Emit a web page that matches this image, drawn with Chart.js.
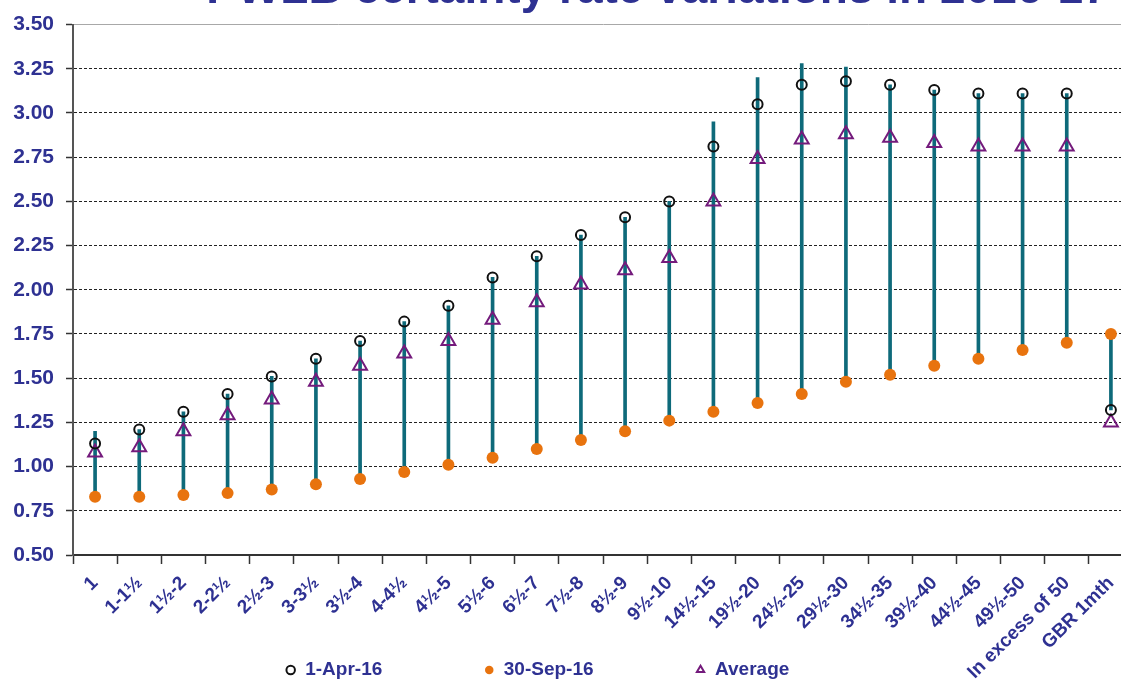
<!DOCTYPE html>
<html>
<head>
<meta charset="utf-8">
<title>PWLB certainty rate variations in 2016-17</title>
<script src="https://cdn.jsdelivr.net/npm/chart.js@4/dist/chart.umd.min.js"></script>
<style>
  html, body { margin: 0; padding: 0; background: #ffffff; overflow: hidden; }
  #wrap { position: absolute; left: 0; top: 0; width: 1143px; height: 683px; }
</style>
</head>
<body>
<div id="wrap"><canvas id="chart" width="1143" height="683"></canvas></div>
<script>
// Loan periods (years) plus the one-month bank rate comparator
const periods = ['1', '1-1½', '1½-2', '2-2½', '2½-3', '3-3½', '3½-4', '4-4½', '4½-5',
  '5½-6', '6½-7', '7½-8', '8½-9', '9½-10', '14½-15', '19½-20', '24½-25', '29½-30',
  '34½-35', '39½-40', '44½-45', '49½-50', 'In excess of 50', 'GBR 1mth'];

// Rates (%) on the two dates and the average across the half year
const rateApr16 = [1.13, 1.21, 1.31, 1.41, 1.51, 1.61, 1.71, 1.82, 1.91, 2.07, 2.19, 2.31,
  2.41, 2.50, 2.81, 3.05, 3.16, 3.18, 3.16, 3.13, 3.11, 3.11, 3.11, 1.32];
const rateSep16 = [0.83, 0.83, 0.84, 0.85, 0.87, 0.90, 0.93, 0.97, 1.01, 1.05, 1.10, 1.15,
  1.20, 1.26, 1.31, 1.36, 1.41, 1.48, 1.52, 1.57, 1.61, 1.66, 1.70, 1.75];
const rateAverage = [1.08, 1.11, 1.20, 1.29, 1.38, 1.48, 1.57, 1.64, 1.71, 1.83, 1.93, 2.03,
  2.11, 2.18, 2.50, 2.74, 2.85, 2.88, 2.86, 2.83, 2.81, 2.81, 2.81, 1.25];

// Lowest and highest rate seen over the period
const rateLow = [0.83, 0.83, 0.84, 0.85, 0.87, 0.90, 0.93, 0.97, 1.01, 1.05, 1.10, 1.15,
  1.20, 1.26, 1.31, 1.36, 1.41, 1.48, 1.52, 1.57, 1.61, 1.66, 1.70, 1.32];
const rateHigh = [1.20, 1.21, 1.31, 1.41, 1.51, 1.61, 1.71, 1.82, 1.91, 2.07, 2.19, 2.31,
  2.41, 2.50, 2.95, 3.20, 3.28, 3.26, 3.16, 3.13, 3.11, 3.11, 3.11, 1.75];

// Y axis tick values
const yTicks = [0.50, 0.75, 1.00, 1.25, 1.50, 1.75, 2.00, 2.25, 2.50, 2.75, 3.00, 3.25, 3.50];

const NAVY = '#2e3192';
const TEAL = '#0e6a7a';
const ORANGE = '#e8730e';
const PURPLE = '#741b7c';

Chart.defaults.font.family = '"Liberation Sans", Arial, sans-serif';
Chart.defaults.font.weight = 'bold';

// After layout: nudge the title and legend sideways, and let the slanted
// period labels run down past the legend row instead of being clipped
const layoutTweak = {
  id: 'layoutTweak',
  afterLayout(chart, args, opts) {
    const t = chart.titleBlock;
    if (t) { t.left += opts.title; t.right += opts.title; }
    const l = chart.legend;
    if (l) { l.left += opts.legend; l.right += opts.legend; }
    const x = chart.scales.x;
    if (x) { x.bottom = chart.height; }
  }
};

new Chart(document.getElementById('chart'), {
  type: 'bar',
  data: {
    labels: periods,
    datasets: [
      {
        type: 'bar',
        label: 'Range',
        data: rateLow.map((lo, i) => [lo, rateHigh[i]]),
        backgroundColor: TEAL,
        borderWidth: 0,
        barThickness: 3,
        order: 10
      },
      {
        type: 'line',
        label: '1-Apr-16',
        data: rateApr16,
        showLine: false,
        pointStyle: 'circle',
        pointRadius: 5,
        pointBorderWidth: 2,
        pointBorderColor: '#111111',
        pointBackgroundColor: 'rgba(0,0,0,0)',
        order: 1
      },
      {
        type: 'line',
        label: '30-Sep-16',
        data: rateSep16,
        showLine: false,
        pointStyle: 'circle',
        pointRadius: 6,
        pointBorderWidth: 0,
        pointBorderColor: ORANGE,
        pointBackgroundColor: ORANGE,
        order: 2
      },
      {
        type: 'line',
        label: 'Average',
        data: rateAverage,
        showLine: false,
        pointStyle: 'triangle',
        pointRadius: 8,
        pointBorderWidth: 2,
        pointBorderColor: PURPLE,
        pointBackgroundColor: 'rgba(0,0,0,0)',
        order: 3
      }
    ]
  },
  options: {
    responsive: false,
    animation: false,
    devicePixelRatio: 1,
    layout: { padding: 0 },
    plugins: {
      tooltip: { enabled: false },
      title: {
        display: true,
        text: 'PWLB certainty rate variations in 2016-17',
        color: NAVY,
        font: { size: 46, weight: 'bold' },
        padding: { top: -37.5, bottom: 6.3 }
      },
      legend: {
        position: 'bottom',
        maxHeight: 124.5,
        labels: {
          filter: (item) => item.datasetIndex !== 0,
          usePointStyle: true,
          boxWidth: 10,
          boxHeight: 6,
          padding: 102,
          color: NAVY,
          font: { size: 19, weight: 'bold' }
        }
      },
      layoutTweak: { title: 86, legend: -34 }
    },
    scales: {
      x: {
        type: 'category',
        offset: true,
        grid: {
          offset: true,
          drawOnChartArea: false,
          drawTicks: true,
          tickLength: 9,
          tickColor: '#333333',
          tickWidth: 1.5
        },
        border: { color: '#333333', width: 2 },
        ticks: {
          color: NAVY,
          font: { size: 19, weight: 'bold' },
          minRotation: 45,
          maxRotation: 45,
          autoSkip: false,
          padding: 8
        },
        afterFit: (s) => { s.height = 3.5; }
      },
      y: {
        min: 0.5,
        max: 3.5,
        afterBuildTicks: (s) => { s.ticks = yTicks.map(v => ({ value: v })); },
        ticks: {
          color: NAVY,
          font: { size: 21, weight: 'bold' },
          padding: 12,
          callback: (v) => Number(v).toFixed(2)
        },
        grid: {
          color: (c) => (c.tick && c.tick.value === 3.5) ? '#a8a8a8' : '#222222',
          lineWidth: 1,
          tickLength: 7,
          tickColor: '#333333',
          tickWidth: 1.5
        },
        border: {
          color: '#555555',
          width: 2,
          dash: (c) => (c.tick && c.tick.value === 3.5) ? [] : [3, 2]
        },
        afterFit: (s) => { s.width = 73; }
      }
    }
  },
  plugins: [layoutTweak]
});
</script>
</body>
</html>
